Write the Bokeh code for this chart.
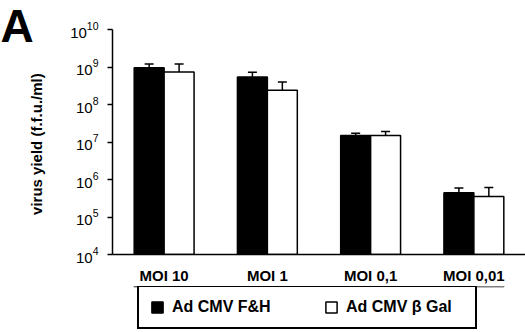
from bokeh.plotting import figure
from bokeh.layouts import column
from bokeh.models import (ColumnDataSource, Whisker, Legend, LegendItem,
                          FactorRange, FixedTicker, TeeHead, Range1d, Title)
from bokeh.transform import dodge
from bokeh.embed import file_html
from bokeh.resources import INLINE

categories = ["MOI 10", "MOI 1", "MOI 0,1", "MOI 0,01"]
fh_yield = [9.5e8, 5.4e8, 1.5e7, 4.4e5]
fh_err_top = [1.2e9, 7.2e8, 1.7e7, 5.9e5]
bgal_yield = [7.4e8, 2.4e8, 1.5e7, 3.5e5]
bgal_err_top = [1.2e9, 4.0e8, 1.9e7, 6.1e5]
series_names = ["Ad CMV F&H", "Ad CMV \u03b2 Gal"]
y_ticks = [1e4, 1e5, 1e6, 1e7, 1e8, 1e9, 1e10]
y_min, y_max = 1e4, 1e10
panel_letter = "A"

src = ColumnDataSource(dict(cat=categories, fh=fh_yield, fh_err=fh_err_top,
                            bg=bgal_yield, bg_err=bgal_err_top))

FONT = "Liberation Sans"

p = figure(x_range=FactorRange(*categories), y_axis_type="log",
           y_range=(y_min, y_max), width=525, height=286,
           output_backend="svg", toolbar_location=None,
           min_border_left=112, min_border_right=0,
           min_border_top=29, min_border_bottom=32)
p.outline_line_color = None
p.xgrid.grid_line_color = None
p.ygrid.grid_line_color = None
p.title_location = None

# panel letter as a title pulled over the top-left corner, with an
# invisible spacer title above it
letter = Title(text=panel_letter, align="left", vertical_align="top",
               offset=-112, standoff=-48, text_font=FONT,
               text_font_style="bold", text_font_size="46px",
               text_color="black")
spacer = Title(text=".", align="left", standoff=0, text_font=FONT,
               text_font_size="6px", text_alpha=0)
p.add_layout(letter, "above")
p.add_layout(spacer, "above")

off = 0.145
r1 = p.vbar(x=dodge("cat", -off, range=p.x_range), top="fh", bottom=y_min,
            width=0.29, fill_color="black", line_color="black",
            line_width=1.5, source=src)
r2 = p.vbar(x=dodge("cat", off, range=p.x_range), top="bg", bottom=y_min,
            width=0.29, fill_color="white", line_color="black",
            line_width=1.5, source=src)

for o, lo, up in [(-off, "fh", "fh_err"), (off, "bg", "bg_err")]:
    w = Whisker(base=dodge("cat", o, range=p.x_range), lower=lo, upper=up,
                source=src, lower_head=None,
                upper_head=TeeHead(size=9, line_width=1.5, line_color="black"),
                line_width=1.5, line_color="black")
    p.add_layout(w)

# y axis
p.yaxis.ticker = FixedTicker(ticks=y_ticks)
p.yaxis.minor_tick_line_color = None
p.yaxis.major_tick_in = 0
p.yaxis.major_tick_out = 5
p.yaxis.major_tick_line_width = 1.5
p.yaxis.axis_line_width = 1.5
p.yaxis.major_label_standoff = 9
p.yaxis.major_label_text_font = FONT
p.yaxis.major_label_text_font_size = "15px"
p.yaxis.major_label_text_color = "black"
p.yaxis.axis_label = "virus yield  (f.f.u./ml)"
p.yaxis.axis_label_text_font = FONT
p.yaxis.axis_label_text_font_style = "bold"
p.yaxis.axis_label_text_font_size = "15px"
p.yaxis.axis_label_text_color = "black"
p.yaxis.axis_label_standoff = 22

# x axis
p.xaxis.major_tick_line_color = None
p.xaxis.major_tick_out = 0
p.xaxis.major_tick_in = 0
p.xaxis.axis_line_width = 1.5
p.xaxis.major_label_text_font = FONT
p.xaxis.major_label_text_font_style = "bold"
p.xaxis.major_label_text_font_size = "15px"
p.xaxis.major_label_text_color = "black"
p.xaxis.major_label_standoff = 12

# legend in its own strip below the chart; its key bars use the same data
# but lie outside that strip's visible range, so only the legend shows
lf = figure(x_range=p.x_range, y_range=Range1d(0, 1), width=525, height=46,
            output_backend="svg", toolbar_location=None,
            min_border_left=112, min_border_right=0, min_border_top=0,
            min_border_bottom=0, x_axis_location=None, y_axis_location=None)
lf.outline_line_color = None
lf.xgrid.grid_line_color = None
lf.ygrid.grid_line_color = None
k1 = lf.vbar(x=dodge("cat", -off, range=lf.x_range), top="fh", bottom=y_min,
             width=0.29, fill_color="black", line_color="black",
             line_width=1.5, source=src)
k2 = lf.vbar(x=dodge("cat", off, range=lf.x_range), top="bg", bottom=y_min,
             width=0.29, fill_color="white", line_color="black",
             line_width=1.5, source=src)
legend = Legend(items=[LegendItem(label=series_names[0], renderers=[k1]),
                       LegendItem(label=series_names[1], renderers=[k2])],
                orientation="horizontal", location=(25, 3),
                glyph_width=14, glyph_height=14, label_standoff=8,
                spacing=34, padding=11, label_height=16, label_width=118,
                margin=0,
                label_text_font=FONT, label_text_font_style="bold",
                label_text_font_size="16px", label_text_color="black",
                border_line_color="black", border_line_width=2,
                border_line_alpha=1, background_fill_alpha=1)
lf.add_layout(legend, "center")

open("out.html", "w").write(file_html(column(p, lf), INLINE))
